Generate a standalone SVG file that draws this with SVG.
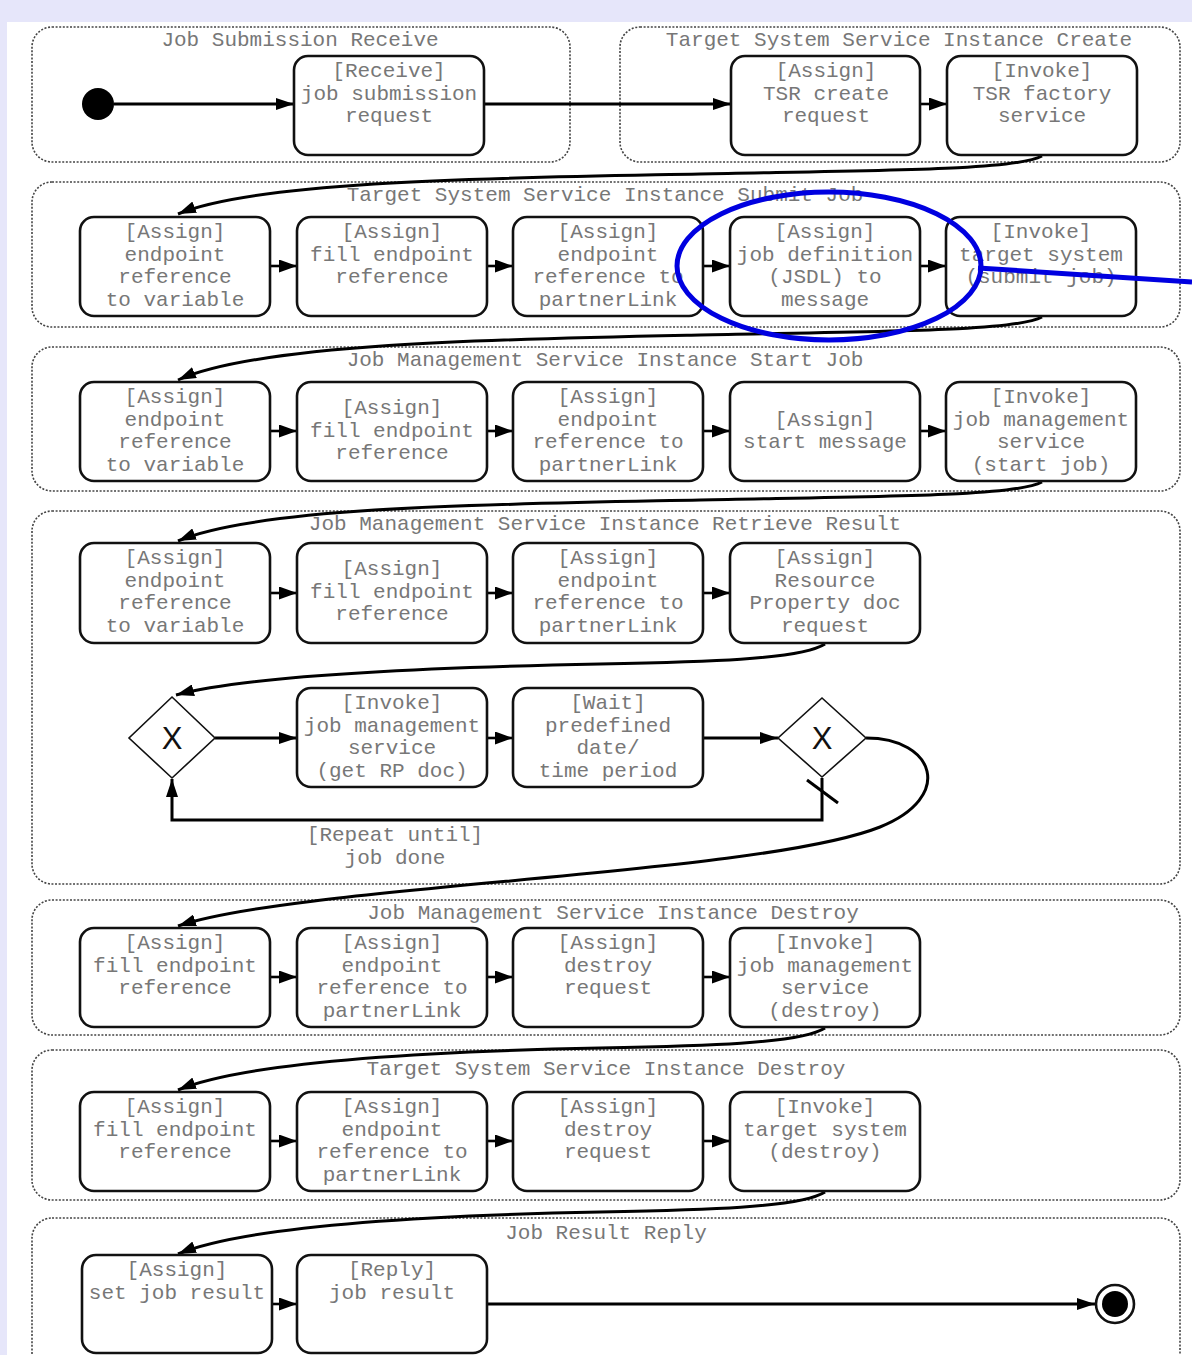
<svg xmlns="http://www.w3.org/2000/svg" width="1192" height="1355" viewBox="0 0 1192 1355">
<defs>
<style>
.grp{fill:none;stroke:#444;stroke-width:1.6;stroke-dasharray:2 1.6}
.nd{fill:#fff;stroke:#111;stroke-width:2.6}
.t{font-family:"Liberation Mono","DejaVu Sans Mono",monospace;font-size:21px;fill:#777;text-anchor:middle}
.c{fill:none;stroke:#000;stroke-width:3}
.c2{fill:none;stroke:#000;stroke-width:2.6}
.dm{fill:#fff;stroke:#111;stroke-width:1.6}
.x{font-family:"Liberation Sans","DejaVu Sans",sans-serif;font-size:31px;fill:#111;text-anchor:middle}
</style>
<marker id="ah" viewBox="0 0 18 12" refX="18" refY="6" markerWidth="18" markerHeight="12" markerUnits="userSpaceOnUse" orient="auto"><path d="M0,0 L18,6 L0,12 z" fill="#000"/></marker>
<marker id="ahs" viewBox="0 0 18 13" refX="18" refY="6.5" markerWidth="18" markerHeight="13" markerUnits="userSpaceOnUse" orient="auto"><path d="M0,0 L18,6.5 L0,13 z" fill="#000"/></marker>
</defs>
<rect x="0" y="0" width="1192" height="1355" fill="#e6e6fa"/>
<rect x="7" y="22" width="1185" height="1333" fill="#fff"/>

<g id="groups">
<g id="g-receive"><rect class="grp" x="32" y="27" width="538" height="135" rx="20"/><text class="t" x="300" y="46">Job Submission Receive</text></g>
<g id="g-tsscreate"><rect class="grp" x="620" y="27" width="560" height="135" rx="20"/><text class="t" x="899" y="46">Target System Service Instance Create</text></g>
<g id="g-submit"><rect class="grp" x="32" y="182" width="1148" height="145" rx="20"/><text class="t" x="605" y="201">Target System Service Instance Submit Job</text></g>
<g id="g-start"><rect class="grp" x="32" y="347" width="1148" height="144" rx="20"/><text class="t" x="605" y="366">Job Management Service Instance Start Job</text></g>
<g id="g-retrieve"><rect class="grp" x="32" y="511" width="1148" height="373" rx="20"/><text class="t" x="605" y="530">Job Management Service Instance Retrieve Result</text></g>
<g id="g-jmdestroy"><rect class="grp" x="32" y="900" width="1148" height="135" rx="20"/><text class="t" x="613" y="919">Job Management Service Instance Destroy</text></g>
<g id="g-tsdestroy"><rect class="grp" x="32" y="1050" width="1148" height="150" rx="20"/><text class="t" x="606" y="1075">Target System Service Instance Destroy</text></g>
<g id="g-reply"><rect class="grp" x="32" y="1218" width="1148" height="160" rx="20"/><text class="t" x="606" y="1239">Job Result Reply</text></g>
</g>

<g id="connectors">
<line class="c" x1="114" y1="104" x2="294" y2="104" marker-end="url(#ah)"/>
<line class="c" x1="484" y1="104" x2="731" y2="104" marker-end="url(#ah)"/>
<line class="c2" x1="920" y1="104" x2="947" y2="104" marker-end="url(#ahs)"/>
<path class="c" d="M1042,156 C1015,170 900,170 700,174 S260,180 178,214" marker-end="url(#ah)"/>
<line class="c2" x1="270" y1="266" x2="297" y2="266" marker-end="url(#ahs)"/>
<line class="c2" x1="487" y1="266" x2="513" y2="266" marker-end="url(#ahs)"/>
<line class="c2" x1="703" y1="266" x2="730" y2="266" marker-end="url(#ahs)"/>
<line class="c2" x1="920" y1="266" x2="946" y2="266" marker-end="url(#ahs)"/>
<path class="c" d="M1042,317 C1015,331 900,331 700,335 S260,343 178,380" marker-end="url(#ah)"/>
<line class="c2" x1="270" y1="431" x2="297" y2="431" marker-end="url(#ahs)"/>
<line class="c2" x1="487" y1="431" x2="513" y2="431" marker-end="url(#ahs)"/>
<line class="c2" x1="703" y1="431" x2="730" y2="431" marker-end="url(#ahs)"/>
<line class="c2" x1="920" y1="431" x2="946" y2="431" marker-end="url(#ahs)"/>
<path class="c" d="M1042,482 C1015,496 900,496 700,500 S260,506 178,541" marker-end="url(#ah)"/>
<line class="c2" x1="270" y1="593" x2="297" y2="593" marker-end="url(#ahs)"/>
<line class="c2" x1="487" y1="593" x2="513" y2="593" marker-end="url(#ahs)"/>
<line class="c2" x1="703" y1="593" x2="730" y2="593" marker-end="url(#ahs)"/>
<path class="c" d="M825,644 C800,660 700,662 600,664 S260,672 176,695" marker-end="url(#ah)"/>
<line class="c" x1="215" y1="738" x2="297" y2="738" marker-end="url(#ah)"/>
<line class="c2" x1="487" y1="738" x2="513" y2="738" marker-end="url(#ahs)"/>
<line class="c" x1="703" y1="738" x2="778" y2="738" marker-end="url(#ah)"/>
<path class="c" d="M822,778 L822,820 L172,820 L172,779" marker-end="url(#ah)"/>
<line x1="807" y1="780" x2="838" y2="803" stroke="#000" stroke-width="3"/>
<path class="c" d="M866,738 C935,738 955,797 880,827 C760,875 300,885 178,926" marker-end="url(#ah)"/>
<line class="c2" x1="270" y1="977" x2="297" y2="977" marker-end="url(#ahs)"/>
<line class="c2" x1="487" y1="977" x2="513" y2="977" marker-end="url(#ahs)"/>
<line class="c2" x1="703" y1="977" x2="730" y2="977" marker-end="url(#ahs)"/>
<path class="c" d="M825,1028 C800,1044 700,1046 600,1048 S260,1056 178,1090" marker-end="url(#ah)"/>
<line class="c2" x1="270" y1="1141" x2="297" y2="1141" marker-end="url(#ahs)"/>
<line class="c2" x1="487" y1="1141" x2="513" y2="1141" marker-end="url(#ahs)"/>
<line class="c2" x1="703" y1="1141" x2="730" y2="1141" marker-end="url(#ahs)"/>
<path class="c" d="M825,1192 C800,1208 700,1210 600,1212 S260,1220 178,1254" marker-end="url(#ah)"/>
<line class="c2" x1="272" y1="1304" x2="297" y2="1304" marker-end="url(#ahs)"/>
<line class="c" x1="487" y1="1304" x2="1095" y2="1304" marker-end="url(#ah)"/>
<text class="t" x="395" y="841">[Repeat until]</text>
<text class="t" x="395" y="864">job done</text>
</g>

<g id="start"><circle cx="98" cy="104" r="16" fill="#000"/></g>
<g id="n-receive"><rect class="nd" x="294" y="56" width="190" height="99" rx="14"/><text class="t" x="389" y="77">[Receive]</text><text class="t" x="389" y="99.5">job submission</text><text class="t" x="389" y="122">request</text></g>
<g id="n-tsrcreate"><rect class="nd" x="731" y="56" width="189" height="99" rx="14"/><text class="t" x="826" y="77">[Assign]</text><text class="t" x="826" y="99.5">TSR create</text><text class="t" x="826" y="122">request</text></g>
<g id="n-tsrfactory"><rect class="nd" x="947" y="56" width="190" height="99" rx="14"/><text class="t" x="1042" y="77">[Invoke]</text><text class="t" x="1042" y="99.5">TSR factory</text><text class="t" x="1042" y="122">service</text></g>

<g id="n-s1"><rect class="nd" x="80" y="217" width="190" height="99" rx="14"/><text class="t" x="175" y="238">[Assign]</text><text class="t" x="175" y="260.5">endpoint</text><text class="t" x="175" y="283">reference</text><text class="t" x="175" y="305.5">to variable</text></g>
<g id="n-s2"><rect class="nd" x="297" y="217" width="190" height="99" rx="14"/><text class="t" x="392" y="238">[Assign]</text><text class="t" x="392" y="260.5">fill endpoint</text><text class="t" x="392" y="283">reference</text></g>
<g id="n-s3"><rect class="nd" x="513" y="217" width="190" height="99" rx="14"/><text class="t" x="608" y="238">[Assign]</text><text class="t" x="608" y="260.5">endpoint</text><text class="t" x="608" y="283">reference to</text><text class="t" x="608" y="305.5">partnerLink</text></g>
<g id="n-s4"><rect class="nd" x="730" y="217" width="190" height="99" rx="14"/><text class="t" x="825" y="238">[Assign]</text><text class="t" x="825" y="260.5">job definition</text><text class="t" x="825" y="283">(JSDL) to</text><text class="t" x="825" y="305.5">message</text></g>
<g id="n-s5"><rect class="nd" x="946" y="217" width="190" height="99" rx="14"/><text class="t" x="1041" y="238">[Invoke]</text><text class="t" x="1041" y="260.5">target system</text><text class="t" x="1041" y="283">(submit job)</text></g>

<g id="n-j1"><rect class="nd" x="80" y="382" width="190" height="99" rx="14"/><text class="t" x="175" y="403">[Assign]</text><text class="t" x="175" y="425.5">endpoint</text><text class="t" x="175" y="448">reference</text><text class="t" x="175" y="470.5">to variable</text></g>
<g id="n-j2"><rect class="nd" x="297" y="382" width="190" height="99" rx="14"/><text class="t" x="392" y="414">[Assign]</text><text class="t" x="392" y="436.5">fill endpoint</text><text class="t" x="392" y="459">reference</text></g>
<g id="n-j3"><rect class="nd" x="513" y="382" width="190" height="99" rx="14"/><text class="t" x="608" y="403">[Assign]</text><text class="t" x="608" y="425.5">endpoint</text><text class="t" x="608" y="448">reference to</text><text class="t" x="608" y="470.5">partnerLink</text></g>
<g id="n-j4"><rect class="nd" x="730" y="382" width="190" height="99" rx="14"/><text class="t" x="825" y="425.5">[Assign]</text><text class="t" x="825" y="448">start message</text></g>
<g id="n-j5"><rect class="nd" x="946" y="382" width="190" height="99" rx="14"/><text class="t" x="1041" y="403">[Invoke]</text><text class="t" x="1041" y="425.5">job management</text><text class="t" x="1041" y="448">service</text><text class="t" x="1041" y="470.5">(start job)</text></g>

<g id="n-r1"><rect class="nd" x="80" y="543" width="190" height="100" rx="14"/><text class="t" x="175" y="564">[Assign]</text><text class="t" x="175" y="586.5">endpoint</text><text class="t" x="175" y="609">reference</text><text class="t" x="175" y="631.5">to variable</text></g>
<g id="n-r2"><rect class="nd" x="297" y="543" width="190" height="100" rx="14"/><text class="t" x="392" y="575">[Assign]</text><text class="t" x="392" y="597.5">fill endpoint</text><text class="t" x="392" y="620">reference</text></g>
<g id="n-r3"><rect class="nd" x="513" y="543" width="190" height="100" rx="14"/><text class="t" x="608" y="564">[Assign]</text><text class="t" x="608" y="586.5">endpoint</text><text class="t" x="608" y="609">reference to</text><text class="t" x="608" y="631.5">partnerLink</text></g>
<g id="n-r4"><rect class="nd" x="730" y="543" width="190" height="100" rx="14"/><text class="t" x="825" y="564">[Assign]</text><text class="t" x="825" y="586.5">Resource</text><text class="t" x="825" y="609">Property doc</text><text class="t" x="825" y="631.5">request</text></g>

<g id="d-merge"><path class="dm" d="M172,697 L215,738 L172,778 L129,738 Z"/><text class="x" x="172" y="749">X</text></g>
<g id="n-getrp"><rect class="nd" x="297" y="688" width="190" height="99" rx="14"/><text class="t" x="392" y="709">[Invoke]</text><text class="t" x="392" y="731.5">job management</text><text class="t" x="392" y="754">service</text><text class="t" x="392" y="776.5">(get RP doc)</text></g>
<g id="n-wait"><rect class="nd" x="513" y="688" width="190" height="99" rx="14"/><text class="t" x="608" y="709">[Wait]</text><text class="t" x="608" y="731.5">predefined</text><text class="t" x="608" y="754">date/</text><text class="t" x="608" y="776.5">time period</text></g>
<g id="d-split"><path class="dm" d="M822,698 L866,738 L822,777 L778,738 Z"/><text class="x" x="822" y="749">X</text></g>

<g id="n-d1"><rect class="nd" x="80" y="928" width="190" height="99" rx="14"/><text class="t" x="175" y="949">[Assign]</text><text class="t" x="175" y="971.5">fill endpoint</text><text class="t" x="175" y="994">reference</text></g>
<g id="n-d2"><rect class="nd" x="297" y="928" width="190" height="99" rx="14"/><text class="t" x="392" y="949">[Assign]</text><text class="t" x="392" y="971.5">endpoint</text><text class="t" x="392" y="994">reference to</text><text class="t" x="392" y="1016.5">partnerLink</text></g>
<g id="n-d3"><rect class="nd" x="513" y="928" width="190" height="99" rx="14"/><text class="t" x="608" y="949">[Assign]</text><text class="t" x="608" y="971.5">destroy</text><text class="t" x="608" y="994">request</text></g>
<g id="n-d4"><rect class="nd" x="730" y="928" width="190" height="99" rx="14"/><text class="t" x="825" y="949">[Invoke]</text><text class="t" x="825" y="971.5">job management</text><text class="t" x="825" y="994">service</text><text class="t" x="825" y="1016.5">(destroy)</text></g>

<g id="n-t1"><rect class="nd" x="80" y="1092" width="190" height="99" rx="14"/><text class="t" x="175" y="1113">[Assign]</text><text class="t" x="175" y="1135.5">fill endpoint</text><text class="t" x="175" y="1158">reference</text></g>
<g id="n-t2"><rect class="nd" x="297" y="1092" width="190" height="99" rx="14"/><text class="t" x="392" y="1113">[Assign]</text><text class="t" x="392" y="1135.5">endpoint</text><text class="t" x="392" y="1158">reference to</text><text class="t" x="392" y="1180.5">partnerLink</text></g>
<g id="n-t3"><rect class="nd" x="513" y="1092" width="190" height="99" rx="14"/><text class="t" x="608" y="1113">[Assign]</text><text class="t" x="608" y="1135.5">destroy</text><text class="t" x="608" y="1158">request</text></g>
<g id="n-t4"><rect class="nd" x="730" y="1092" width="190" height="99" rx="14"/><text class="t" x="825" y="1113">[Invoke]</text><text class="t" x="825" y="1135.5">target system</text><text class="t" x="825" y="1158">(destroy)</text></g>

<g id="n-f1"><rect class="nd" x="82" y="1255" width="190" height="98" rx="14"/><text class="t" x="177" y="1276">[Assign]</text><text class="t" x="177" y="1298.5">set job result</text></g>
<g id="n-f2"><rect class="nd" x="297" y="1255" width="190" height="98" rx="14"/><text class="t" x="392" y="1276">[Reply]</text><text class="t" x="392" y="1298.5">job result</text></g>
<g id="end"><circle cx="1115" cy="1304" r="19" fill="#fff" stroke="#111" stroke-width="2.6"/><circle cx="1115" cy="1304" r="13" fill="#000"/></g>

<g id="annotation">
<ellipse cx="829" cy="266" rx="152" ry="74" fill="none" stroke="#0000e0" stroke-width="5"/>
<line x1="978" y1="268" x2="1192" y2="282" stroke="#0000e0" stroke-width="5"/>
</g>
</svg>
